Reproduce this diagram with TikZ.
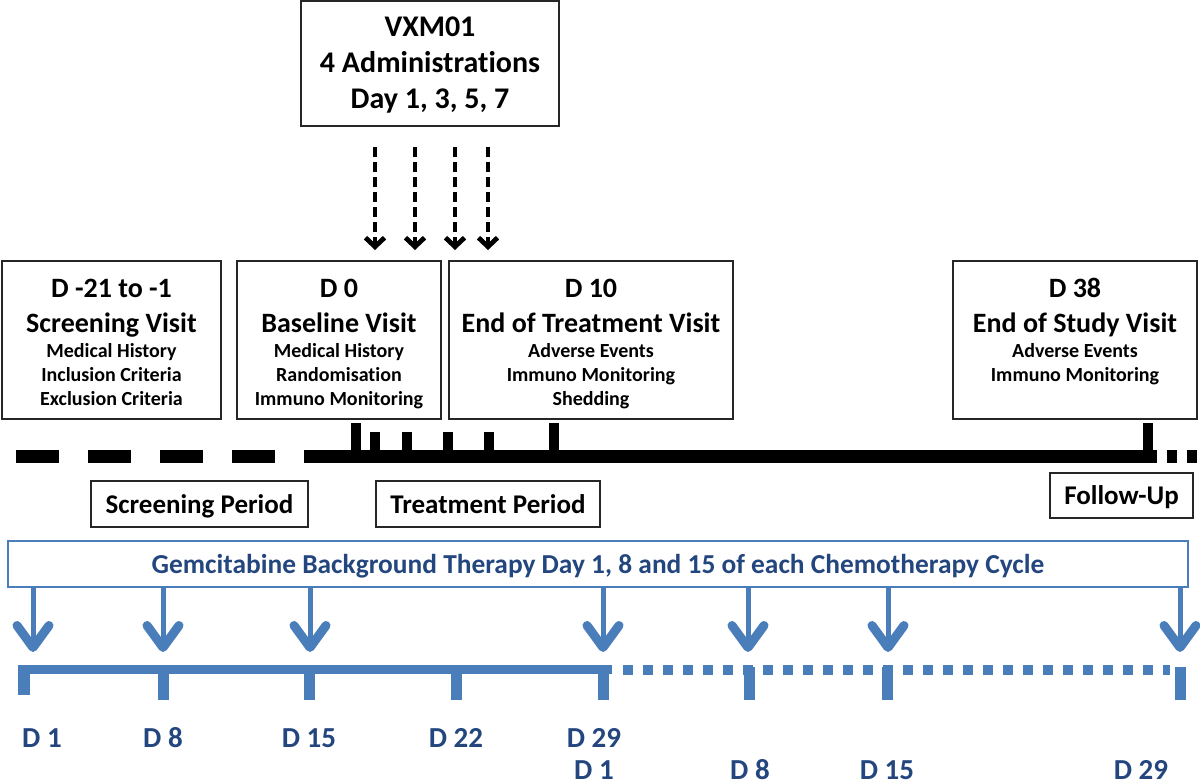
\documentclass[tikz,border=0pt]{standalone}
\usepackage{fontspec}
\setmainfont{Carlito}[Ligatures=NoCommon]
\usetikzlibrary{arrows.meta}
\definecolor{bl}{HTML}{4A7EBB}
\definecolor{nv}{HTML}{24467E}
\tikzset{
  box/.style={draw=black!85, line width=1.6pt, inner sep=0pt},
  txt/.style={anchor=base, inner sep=0pt},
  top/.style={txt, font=\fontsize{30}{30}\selectfont\bfseries},
  ttl/.style={txt, font=\fontsize{28}{28}\selectfont\bfseries},
  sub/.style={txt, font=\fontsize{20}{20}\selectfont\bfseries},
  per/.style={txt, font=\fontsize{27}{27}\selectfont\bfseries},
  lbl/.style={txt, text=nv, font=\fontsize{29}{29}\selectfont\bfseries},
  darrow/.style={black, line width=3.8pt, dash pattern=on 10pt off 5pt, -{Straight Barb[length=9pt,width=19pt,line width=1pt 1]}},
  barrow/.style={bl, line width=5pt, -{Straight Barb[length=22pt,width=32pt,line width=4pt 1,round]}},
  btick/.style={black, line width=10pt},
  bltick/.style={bl, line width=11pt}
}
\begin{document}
\begin{tikzpicture}[x=1pt,y=-1pt]
\useasboundingbox (0,0) rectangle (1200,784);
% top box
\node[box, minimum width=258pt, minimum height=125pt] (vxm) at (430,63.5) {};
\node[top] (vxm1) at (430,37) {VXM01};
\node[top] (vxm2) at (430,73) {4 Administrations};
\node[top] (vxm3) at (430,108) {Day 1, 3, 5, 7};
% dashed arrows
\foreach \x [count=\i] in {375,415,455,488} {
  \coordinate (ds\i) at (\x,147);
  \coordinate (de\i) at (\x,250);
  \draw[darrow] (ds\i) -- (de\i);
}
% visit boxes
\node[box, minimum width=219pt, minimum height=158pt] (b1) at (111.5,340) {};
\node[box, minimum width=204pt, minimum height=158pt] (b2) at (339,340) {};
\node[box, minimum width=284pt, minimum height=158pt] (b3) at (591,340) {};
\node[box, minimum width=244pt, minimum height=158pt] (b4) at (1075,340) {};
\node[ttl] (b1t) at (111.5,297) {D -21 to -1};
\node[ttl] (b1s) at (111.5,332) {Screening Visit};
\node[sub] (b1a) at (111.5,357) {Medical History};
\node[sub] (b1b) at (111.5,381) {Inclusion Criteria};
\node[sub] (b1c) at (111.5,405) {Exclusion Criteria};
\node[ttl] (b2t) at (339,297) {D 0};
\node[ttl] (b2s) at (339,332) {Baseline Visit};
\node[sub] (b2a) at (339,357) {Medical History};
\node[sub] (b2b) at (339,381) {Randomisation};
\node[sub] (b2c) at (339,405) {Immuno Monitoring};
\node[ttl] (b3t) at (591,297) {D 10};
\node[ttl] (b3s) at (591,332) {End of Treatment Visit};
\node[sub] (b3a) at (591,357) {Adverse Events};
\node[sub] (b3b) at (591,381) {Immuno Monitoring};
\node[sub] (b3c) at (591,405) {Shedding};
\node[ttl] (b4t) at (1075,297) {D 38};
\node[ttl] (b4s) at (1075,332) {End of Study Visit};
\node[sub] (b4a) at (1075,357) {Adverse Events};
\node[sub] (b4b) at (1075,381) {Immuno Monitoring};
% black timeline
\draw[line width=13pt, dash pattern=on 43pt off 29pt] (16,456.5) -- (300,456.5);
\draw[line width=13pt] (304,456.5) -- (1157,456.5);
\draw[line width=13pt, dash pattern=on 10pt off 10pt] (1167,456.5) -- (1197,456.5);
\foreach \x in {356,554,1148} \draw[btick] (\x,423) -- (\x,456);
\foreach \x in {375,407,448,489} \draw[btick] (\x,432) -- (\x,456);
% period boxes
\node[box, minimum width=217pt, minimum height=46pt] (sp) at (199.5,504) {};
\node[per] (spt) at (199.5,513) {Screening Period};
\node[box, minimum width=224pt, minimum height=46pt] (tp) at (488,504) {};
\node[per] (tpt) at (488,513) {Treatment Period};
\node[box, minimum width=143pt, minimum height=45pt] (fu) at (1121.5,495.5) {};
\node[per] (fut) at (1121.5,504) {Follow-Up};
% gemcitabine band
\node[draw=bl, line width=1.5pt, inner sep=0pt, minimum width=1180pt, minimum height=46pt] (band) at (598,564) {};
\node[txt, text=nv, font=\fontsize{27.4}{27.4}\selectfont\bfseries] (bandt) at (598,573) {Gemcitabine Background Therapy Day 1, 8 and 15 of each Chemotherapy Cycle};
% blue arrows
\foreach \x [count=\i] in {33,163,310,603,748,888,1180} {
  \coordinate (gs\i) at (\x,587);
  \coordinate (ge\i) at (\x,652);
  \draw[barrow] (gs\i) -- (ge\i);
}
% blue timeline
\draw[bl, line width=9.5pt] (18,669.5) -- (612,669.5);
\draw[bl, line width=12pt] (24,665) -- (24,695);
\foreach \x in {163,309,456,603} \draw[bltick] (\x,669) -- (\x,700);
\draw[bl, line width=10pt, dash pattern=on 10pt off 10pt] (623,669.5) -- (1170,669.5);
\foreach \x in {749,887,1180} \draw[bltick] (\x,667) -- (\x,700);
% labels
\node[lbl] (l1) at (42,747) {D 1};
\node[lbl] (l2) at (163,747) {D 8};
\node[lbl] (l3) at (309,747) {D 15};
\node[lbl] (l4) at (456,747) {D 22};
\node[lbl] (l5) at (594,747) {D 29};
\node[lbl] (l6) at (594,779) {D 1};
\node[lbl] (l7) at (750,779) {D 8};
\node[lbl] (l8) at (887,779) {D 15};
\node[lbl] (l9) at (1141,779) {D 29};
\end{tikzpicture}
\end{document}
